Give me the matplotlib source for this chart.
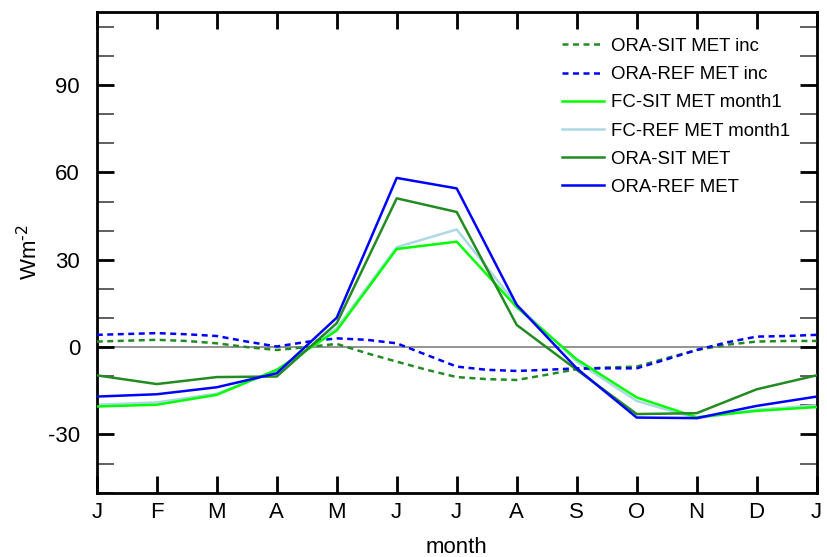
import numpy as np
import matplotlib.pyplot as plt
from matplotlib.ticker import MultipleLocator

plt.rcParams['font.family'] = ['Liberation Sans', 'DejaVu Sans']
plt.rcParams['axes.unicode_minus'] = False

# month labels, J..D plus the following J
months = ['J', 'F', 'M', 'A', 'M', 'J', 'J', 'A', 'S', 'O', 'N', 'D', 'J']
mon = np.arange(13)
# the increment curves are sampled twice a month
half = np.arange(25) * 0.5

ora_sit_inc = [1.9, 2.2, 2.5, 2.1, 1.3, 0.0, -1.0, 0.0, 1.1, -2.1, -5.0, -7.8, -10.3,
               -11.0, -11.3, -9.5, -7.6, -7.0, -6.7, -3.8, -1.0, 0.8, 1.9, 2.1, 2.1]
ora_ref_inc = [4.2, 4.5, 4.8, 4.4, 3.8, 1.9, 0.2, 1.8, 3.0, 2.5, 1.3, -2.7, -6.7,
               -7.8, -8.2, -7.8, -7.3, -7.3, -7.3, -4.2, -1.0, 1.6, 3.6, 3.8, 4.2]

fc_sit = [-20.4, -19.8, -16.4, -7.8, 5.7, 33.7, 36.2, 13.7, -4.2, -17.3, -24.1, -21.9, -20.6]
fc_ref = [-19.8, -19.0, -16.0, -8.0, 6.5, 34.3, 40.4, 14.5, -5.0, -18.5, -24.5, -21.5, -20.0]
ora_sit = [-9.7, -12.7, -10.3, -10.1, 8.2, 51.1, 46.4, 7.6, -7.8, -23.0, -22.7, -14.5, -9.7]
ora_ref = [-17.0, -16.2, -13.8, -9.0, 10.1, 58.1, 54.5, 14.5, -7.3, -24.2, -24.4, -20.2, -17.0]

fig = plt.figure(figsize=(8.27, 5.57), dpi=100)
ax = fig.add_axes([0.117, 0.1155, 0.8705, 0.8625])

ax.axhline(0, color='grey', lw=1.2, zorder=1)

lw = 1.8
dash = (0, (2.4, 1.8))
ax.plot(half, ora_sit_inc, color='forestgreen', lw=lw, ls=dash, label='ORA-SIT MET inc', zorder=3)
ax.plot(half, ora_ref_inc, color='blue', lw=lw, ls=dash, label='ORA-REF MET inc', zorder=3)
ax.plot(mon, fc_sit, color='lime', lw=lw, label='FC-SIT MET month1', zorder=3)
ax.plot(mon, fc_ref, color='lightblue', lw=lw, label='FC-REF MET month1', zorder=2)
ax.plot(mon, ora_sit, color='forestgreen', lw=lw, label='ORA-SIT MET', zorder=3)
ax.plot(mon, ora_ref, color='blue', lw=lw, label='ORA-REF MET', zorder=3)

ax.set_xlim(0, 12)
ax.set_ylim(-50, 115)
ax.set_xticks(mon)
ax.set_xticklabels(months)
ax.yaxis.set_minor_locator(MultipleLocator(10))
ax.set_yticks([-30, 0, 30, 60, 90])

ax.tick_params(axis='both', which='major', direction='in', length=12, width=2,
               labelsize=16)
ax.tick_params(axis='x', which='major', pad=7)
ax.tick_params(axis='y', which='major', pad=12)
ax.tick_params(axis='y', which='both', right=True)
ax.tick_params(axis='x', which='both', top=True)
ax.tick_params(axis='y', which='minor', direction='in', length=12, width=1.2, color='#444444')
ax.tick_params(axis='x', which='minor', bottom=False, top=False)
for s in ax.spines.values():
    s.set_linewidth(2)

ax.set_xlabel('month', fontsize=16, labelpad=10)
ax.set_ylabel(r'Wm$^{\text{-2}}$', fontsize=16, labelpad=4)

ax.legend(loc='upper left', bbox_to_anchor=(0.646, 0.9465), frameon=False, fontsize=13.4,
          handlelength=2.25, handletextpad=0.37, labelspacing=0.6, borderpad=0,
          borderaxespad=0)

fig.savefig('out.png', dpi=100)
